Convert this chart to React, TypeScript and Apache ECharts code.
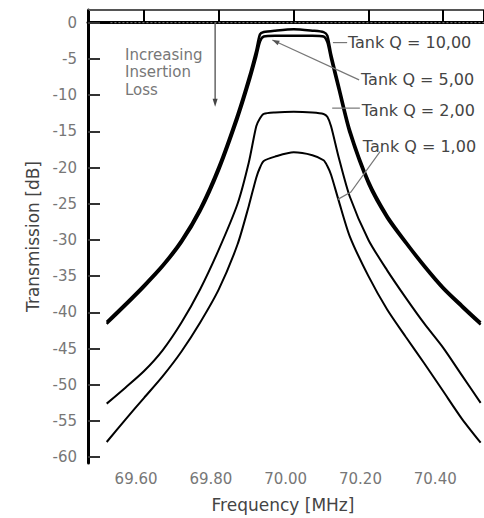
import React, { useEffect, useRef } from "react";
import * as echarts from "echarts";

const freq = [69.5, 69.55, 69.6, 69.65, 69.7, 69.75, 69.8, 69.85, 69.88, 69.9, 69.91, 69.92, 69.95, 70.0, 70.05, 70.08, 70.09, 70.1, 70.12, 70.15, 70.2, 70.25, 70.3, 70.35, 70.4, 70.45, 70.5];
const q10 = [-41.3, -38.8, -36.2, -33.4, -30.0, -25.6, -19.8, -12.6, -7.6, -3.8, -1.6, -1.3, -1.1, -0.9, -1.1, -1.3, -1.8, -4.3, -8.5, -14.7, -21.8, -26.6, -30.2, -33.5, -36.5, -39.0, -41.4];
const q5 = [-41.6, -39.1, -36.5, -33.7, -30.4, -26.1, -20.4, -13.3, -8.4, -4.7, -2.6, -1.9, -1.8, -1.8, -1.8, -1.9, -2.7, -5.0, -9.2, -15.3, -22.3, -27.0, -30.5, -33.8, -36.8, -39.3, -41.7];
const q2 = [-52.6, -50.4, -48.1, -45.2, -41.4, -36.8, -31.3, -25.0, -19.3, -14.3, -13.2, -12.6, -12.4, -12.3, -12.4, -12.6, -13.0, -14.3, -18.5, -24.0, -30.0, -34.2, -38.0, -41.6, -44.9, -48.7, -52.5];
const q1 = [-57.9, -54.8, -51.8, -48.8, -45.4, -41.4, -36.8, -30.6, -25.3, -21.4, -20.0, -19.1, -18.5, -17.9, -18.3, -19.0, -19.8, -21.0, -24.5, -29.5, -35.0, -39.6, -43.4, -47.1, -50.9, -54.7, -58.0];

const seriesNames = ["Tank Q = 10,00", "Tank Q = 5,00", "Tank Q = 2,00", "Tank Q = 1,00"];
const seriesValues = [q10, q5, q2, q1];
const seriesWidths = [2.5, 2.5, 2, 2];

// annotation anchors in data coordinates [MHz, dB]
const labelAnchors = [[70.145, -2.75], [70.18, -7.8], [70.182, -12.1], [70.185, -17.1]];
const pointerPaths = [
  [[70.105, -2.75], [70.143, -2.75]],
  [[70.175, -7.9], [69.943, -2.4]],
  [[70.103, -11.8], [70.177, -11.8]],
  [[70.231, -17.8], [70.153, -23.4], [70.118, -24.4]],
];
const lossArrow = [[69.79, 0], [69.79, -11.6]];
const zeroLine = [[69.51, 0], [70.51, 0]];
const lossTextAnchor = [69.549, -3.2];
const lossText = "Increasing\nInsertion\nLoss";

const FONT = "DejaVu Sans";

export default function App() {
  const ref = useRef<HTMLDivElement>(null);
  useEffect(() => {
    if (!ref.current) return;
    const chart = echarts.init(ref.current, null, { renderer: "svg" });
    const isTick = (v: number, step: number) => Math.abs(v / step - Math.round(v / step)) < 1e-6;
    chart.setOption({
      animation: false,
      backgroundColor: "#fff",
      grid: { left: 88, top: 10, right: 0, bottom: 53, containLabel: false },
      xAxis: [
        {
          type: "value",
          min: 69.45,
          max: 70.509,
          splitNumber: 5,
          name: "Frequency [MHz]",
          nameLocation: "middle",
          nameGap: 33,
          nameTextStyle: { fontFamily: FONT, fontSize: 17, color: "#444", padding: [0, 6, 0, 0] },
          axisLine: { show: true, lineStyle: { color: "#000", width: 3 } },
          axisTick: { show: true, inside: true, length: 11, lineStyle: { color: "#000", width: 2 } },
          axisLabel: {
            margin: 8,
            fontFamily: FONT,
            fontSize: 15,
            color: "#777",
            padding: [0, 16, 0, 0],
            showMinLabel: false,
            showMaxLabel: false,
            formatter: (v: number) => (isTick(v, 0.2) ? v.toFixed(2) : ""),
          },
          splitLine: { show: false },
        },
        {
          type: "value",
          position: "top",
          min: 69.45,
          max: 70.509,
          splitNumber: 5,
          axisLine: { show: true, lineStyle: { color: "#555", width: 2 } },
          axisTick: { show: true, inside: true, length: 12, lineStyle: { color: "#000", width: 2 } },
          axisLabel: { show: false },
          splitLine: { show: false },
        },
      ],
      yAxis: {
        type: "value",
        min: -60.8,
        max: 1.75,
        splitNumber: 12,
        name: "Transmission [dB]",
        nameLocation: "middle",
        nameGap: 45,
        nameTextStyle: { fontFamily: FONT, fontSize: 17, color: "#444" },
        axisLine: { show: true, lineStyle: { color: "#000", width: 3 } },
        axisTick: { show: true, inside: true, length: 12, lineStyle: { color: "#333", width: 2 } },
        axisLabel: {
          margin: 11,
          fontFamily: FONT,
          fontSize: 15,
          color: "#777",
          showMinLabel: false,
          showMaxLabel: false,
          formatter: (v: number) => (isTick(v, 5) ? String(Math.round(v)) : ""),
        },
        splitLine: { show: false },
      },
      series: seriesValues.map((vals, i) => ({
        type: "line",
        name: seriesNames[i],
        data: freq.map((f, j) => [f, vals[j]]),
        showSymbol: false,
        symbol: "none",
        smooth: 0.25,
        lineStyle: { color: "#000", width: seriesWidths[i] },
        clip: true,
      })),
    });

    const px = (p: number[]) => chart.convertToPixel({ xAxisIndex: 0, yAxisIndex: 0 }, p) as number[];
    const graphics: any[] = [];
    const zl = zeroLine.map(px);
    graphics.push({
      type: "line",
      shape: { x1: zl[0][0], y1: zl[0][1], x2: zl[1][0], y2: zl[1][1] },
      style: { stroke: "#888", lineWidth: 1, lineDash: [2, 2] },
      z: 5,
    });
    const arrowHead = (from: number[], to: number[], len: number, half: number, color: string) => {
      const dx = to[0] - from[0];
      const dy = to[1] - from[1];
      const l = Math.hypot(dx, dy) || 1;
      const ux = dx / l, uy = dy / l;
      const bx = to[0] - ux * len, by = to[1] - uy * len;
      return {
        type: "polygon",
        shape: { points: [[to[0], to[1]], [bx - uy * half, by + ux * half], [bx + uy * half, by - ux * half]] },
        style: { fill: color },
        z: 6,
      };
    };
    const la = lossArrow.map(px);
    graphics.push({
      type: "line",
      shape: { x1: la[0][0], y1: la[0][1], x2: la[1][0], y2: la[1][1] - 4 },
      style: { stroke: "#666", lineWidth: 1.5 },
      z: 6,
    });
    graphics.push(arrowHead(la[0], la[1], 8, 2.5, "#444"));
    const lt = px(lossTextAnchor);
    graphics.push({
      type: "text",
      x: lt[0],
      y: lt[1],
      style: { text: lossText, fontFamily: FONT, fontSize: 15, lineHeight: 17.5, fill: "#777", align: "left", verticalAlign: "top" },
      z: 6,
    });
    pointerPaths.forEach((path, i) => {
      const pts = path.map(px);
      graphics.push({
        type: "polyline",
        shape: { points: pts },
        style: { stroke: "#777", lineWidth: 1.2, fill: null },
        z: 6,
      });
      if (i === 1) graphics.push(arrowHead(pts[0], pts[1], 7, 2.5, "#555"));
    });
    labelAnchors.forEach((a, i) => {
      const p = px(a);
      graphics.push({
        type: "text",
        x: p[0],
        y: p[1],
        style: { text: seriesNames[i], fontFamily: FONT, fontSize: 16, fill: "#444", align: "left", verticalAlign: "middle" },
        z: 7,
      });
    });
    chart.setOption({ graphic: graphics });

    return () => chart.dispose();
  }, []);
  return <div ref={ref} style={{ width: 484, height: 518, position: "absolute", left: 0, top: 0 }} />;
}
